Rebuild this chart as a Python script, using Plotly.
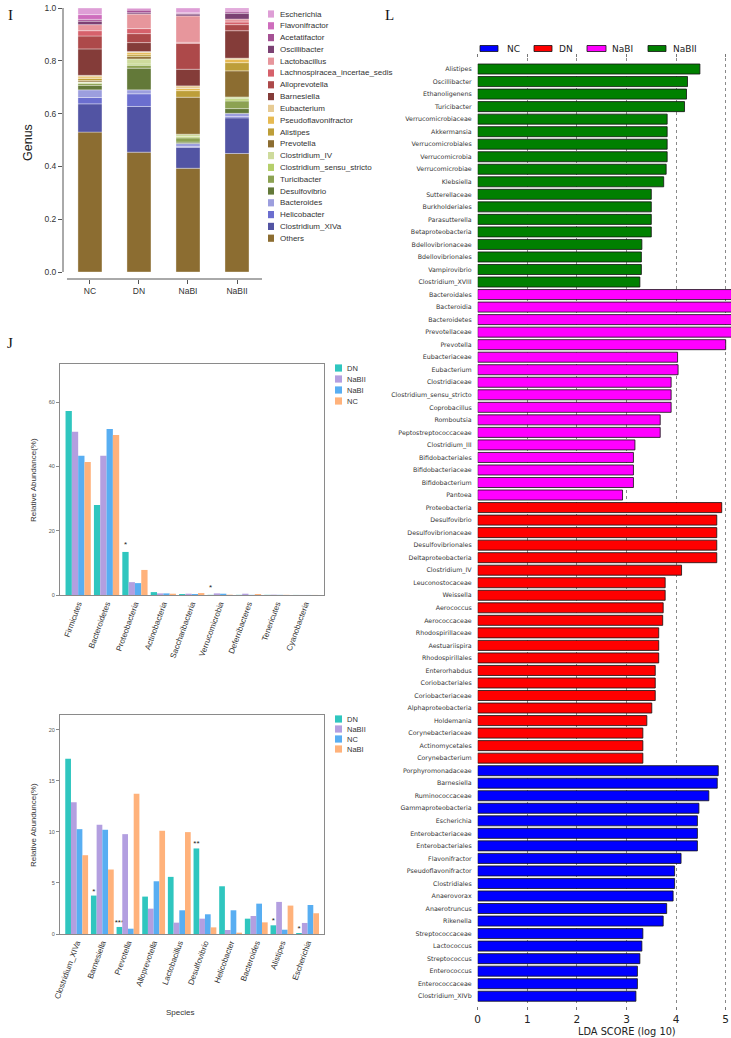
import numpy as np
import plotly.graph_objects as go

W, H = 731, 1038
def fx(px): return px / W
def fy(py): return 1 - py / H

NARROW = "Liberation Sans Narrow, Arial Narrow, Liberation Sans, sans-serif"
SANS = "Liberation Sans, Arial, sans-serif"
DEJA = "DejaVu Sans, sans-serif"
SERIF = "Liberation Serif, Times New Roman, serif"

# ---------------- Panel I : genus stacked bars ----------------
genus_groups = ["NC", "DN", "NaBI", "NaBII"]
genus_names = ["Others", "Clostridium_XIVa", "Helicobacter", "Bacteroides", "Desulfovibrio",
               "Turicibacter", "Clostridium_sensu_stricto", "Clostridium_IV", "Prevotella",
               "Alistipes", "Pseudoflavonifractor", "Eubacterium", "Barnesiella", "Alloprevotella",
               "Lachnospiracea_incertae_sedis", "Lactobacillus", "Oscillibacter", "Acetatifactor",
               "Flavonifractor", "Escherichia"]
genus_colors = ["#8c6d31", "#5254a3", "#6b6ecf", "#9c9ede", "#637939", "#8ca252", "#b5cf6b",
                "#cedb9c", "#8c6d31", "#bd9e39", "#e7ba52", "#e7cb94", "#843c39", "#ad494a",
                "#d6616b", "#e7969c", "#7b4173", "#a55194", "#ce6dbd", "#de9ed6"]
genus_NC = [0.530, 0.107, 0.024, 0.029, 0.017, 0.007, 0.004, 0.002, 0.005, 0.008,
            0.006, 0.006, 0.100, 0.049, 0.020, 0.023, 0.013, 0.007, 0.018, 0.025]
genus_DN = [0.454, 0.173, 0.048, 0.015, 0.082, 0.011, 0.005, 0.019, 0.009, 0.007,
            0.008, 0.004, 0.034, 0.034, 0.019, 0.055, 0.005, 0.010, 0.005, 0.003]
genus_NaBI = [0.393, 0.079, 0.003, 0.012, 0.005, 0.016, 0.005, 0.009, 0.140, 0.025,
              0.008, 0.010, 0.063, 0.098, 0.004, 0.100, 0.007, 0.003, 0.002, 0.018]
genus_NaBII = [0.449, 0.135, 0.005, 0.012, 0.018, 0.029, 0.008, 0.007, 0.099, 0.031,
               0.013, 0.004, 0.104, 0.023, 0.010, 0.011, 0.022, 0.006, 0.006, 0.008]

# ---------------- Panel J top : phylum ----------------
phyla = ["Firmicutes", "Bacteroidetes", "Proteobacteria", "Actinobacteria", "Saccharibacteria",
         "Verrucomicrobia", "Deferribacteres", "Tenericutes", "Cyanobacteria"]
phylum_series = ["DN", "NaBII", "NaBI", "NC"]
phylum_colors = ["#2fc6bf", "#b39fe0", "#58aef2", "#ffb27b"]
phylum_DN = [57.3, 28.0, 13.4, 0.9, 0.3, 0.05, 0.05, 0.05, 0.02]
phylum_NaBII = [50.8, 43.3, 4.0, 0.5, 0.4, 0.5, 0.4, 0.1, 0.02]
phylum_NaBI = [43.3, 51.7, 3.7, 0.5, 0.3, 0.4, 0.05, 0.05, 0.02]
phylum_NC = [41.4, 49.8, 7.8, 0.4, 0.6, 0.1, 0.3, 0.05, 0.02]
phylum_sig = ["", "", "*", "", "", "*", "", "", ""]

# ---------------- Panel J bottom : species ----------------
species = ["Clostridium_XIVa", "Barnesiella", "Prevotella", "Alloprevotella", "Lactobacillus",
           "Desulfovibrio", "Helicobacter", "Bacteroides", "Alistipes", "Escherichia"]
species_series = ["DN", "NaBII", "NC", "NaBI"]
species_colors = ["#2fc6bf", "#b39fe0", "#58aef2", "#ffb27b"]
sp_DN = [17.16, 3.76, 0.69, 3.66, 5.59, 8.37, 4.67, 1.50, 0.85, 0.10]
sp_NaBII = [12.9, 10.69, 9.77, 2.48, 1.11, 1.50, 0.39, 1.76, 3.14, 1.08]
sp_NC = [10.26, 10.20, 0.52, 5.16, 2.32, 1.93, 2.32, 2.97, 0.42, 2.84]
sp_NaBI = [7.71, 6.31, 13.73, 10.10, 9.97, 0.65, 0.13, 1.14, 2.78, 2.03]
sp_sig = ["", "*", "***", "", "", "**", "", "", "*", "*"]

# ---------------- Panel L : LEfSe LDA ----------------
lda_groups = ["NC", "DN", "NaBI", "NaBII"]
lda_colors = ["#0000ff", "#ff0000", "#ff00ff", "#008000"]
nabii_taxa = ["Alistipes", "Oscillibacter", "Ethanoligenens", "Turicibacter", "Verrucomicrobiaceae",
              "Akkermansia", "Verrucomicrobiales", "Verrucomicrobia", "Verrucomicrobiae", "Klebsiella",
              "Sutterellaceae", "Burkholderiales", "Parasutterella", "Betaproteobacteria",
              "Bdellovibrionaceae", "Bdellovibrionales", "Vampirovibrio", "Clostridium_XVIII"]
nabii_lda = [4.48, 4.23, 4.21, 4.17, 3.82, 3.82, 3.82, 3.82, 3.80, 3.75,
             3.50, 3.50, 3.50, 3.50, 3.31, 3.30, 3.30, 3.27]
nabi_taxa = ["Bacteroidales", "Bacteroidia", "Bacteroidetes", "Prevotellaceae", "Prevotella",
             "Eubacteriaceae", "Eubacterium", "Clostridiaceae", "Clostridium_sensu_stricto",
             "Coprobacillus", "Romboutsia", "Peptostreptococcaceae", "Clostridium_III",
             "Bifidobacteriales", "Bifidobacteriaceae", "Bifidobacterium", "Pantoea"]
nabi_lda = [5.15, 5.15, 5.14, 5.15, 5.00, 4.03, 4.04, 3.90, 3.90, 3.90,
            3.68, 3.68, 3.17, 3.14, 3.14, 3.14, 2.92]
dn_taxa = ["Proteobacteria", "Desulfovibrio", "Desulfovibrionaceae", "Desulfovibrionales",
           "Deltaproteobacteria", "Clostridium_IV", "Leuconostocaceae", "Weissella", "Aerococcus",
           "Aerococcaceae", "Rhodospirillaceae", "Aestuariispira", "Rhodospirillales", "Enterorhabdus",
           "Coriobacteriales", "Coriobacteriaceae", "Alphaproteobacteria", "Holdemania",
           "Corynebacteriaceae", "Actinomycetales", "Corynebacterium"]
dn_lda = [4.92, 4.82, 4.82, 4.82, 4.82, 4.11, 3.78, 3.78, 3.74, 3.73, 3.65, 3.65, 3.65,
          3.58, 3.58, 3.58, 3.51, 3.41, 3.33, 3.33, 3.33]
nc_taxa = ["Porphyromonadaceae", "Barnesiella", "Ruminococcaceae", "Gammaproteobacteria",
           "Escherichia", "Enterobacteriaceae", "Enterobacteriales", "Flavonifractor",
           "Pseudoflavonifractor", "Clostridiales", "Anaerovorax", "Anaerotruncus", "Rikenella",
           "Streptococcaceae", "Lactococcus", "Streptococcus", "Enterococcus", "Enterococcaceae",
           "Clostridium_XIVb"]
nc_lda = [4.85, 4.83, 4.66, 4.46, 4.43, 4.43, 4.43, 4.10, 3.97, 3.97, 3.94, 3.81, 3.74,
          3.33, 3.31, 3.27, 3.22, 3.22, 3.19]
lda_ticks = [0, 1, 2, 3, 4, 5]

fig = go.Figure()

# ---- Panel I traces ----
gmat = np.array([genus_NC, genus_DN, genus_NaBI, genus_NaBII])
gbase = np.cumsum(gmat, axis=1) - gmat
bw_I = 0.49
for k, name in enumerate(genus_names):
    fig.add_trace(go.Bar(x=genus_groups, y=gmat[:, k], base=gbase[:, k], name=name,
                         marker=dict(color=genus_colors[k], line=dict(color="rgba(255,255,255,0.7)", width=0.5)),
                         width=bw_I, offset=-bw_I / 2, xaxis="x", yaxis="y", showlegend=False))

# ---- Panel J top ----
phylum_vals = [phylum_DN, phylum_NaBII, phylum_NaBI, phylum_NC]
for i, s in enumerate(phylum_series):
    fig.add_trace(go.Bar(x=phyla, y=phylum_vals[i], name=s, marker=dict(color=phylum_colors[i], line=dict(width=0)),
                         text=phylum_sig if s == "DN" else None, textposition="outside",
                         textangle=0, constraintext="none", cliponaxis=False,
                         textfont=dict(size=8, color="#222", family=SANS),
                         xaxis="x2", yaxis="y2", showlegend=False))

# ---- Panel J bottom ----
sp_vals = [sp_DN, sp_NaBII, sp_NC, sp_NaBI]
for i, s in enumerate(species_series):
    fig.add_trace(go.Bar(x=species, y=sp_vals[i], name=s, marker=dict(color=species_colors[i], line=dict(width=0)),
                         text=sp_sig if s == "DN" else None, textposition="outside",
                         textangle=0, constraintext="none", cliponaxis=False,
                         textfont=dict(size=8, color="#222", family=SANS),
                         xaxis="x3", yaxis="y3", showlegend=False))

# ---- Panel L ----
lda_sets = [(nabii_taxa, nabii_lda, 3), (nabi_taxa, nabi_lda, 2), (dn_taxa, dn_lda, 1), (nc_taxa, nc_lda, 0)]
all_taxa = nabii_taxa + nabi_taxa + dn_taxa + nc_taxa
bw_L = 0.8
for taxa, vals, gi in lda_sets:
    fig.add_trace(go.Bar(y=taxa, x=vals, orientation="h", name=lda_groups[gi],
                         marker=dict(color=lda_colors[gi], line=dict(color="#111", width=0.8)),
                         width=bw_L, offset=-bw_L / 2, xaxis="x4", yaxis="y4", showlegend=False))

shapes = []
annotations = []

# Panel I axis lines (detached style)
shapes.append(dict(type="line", xref="x domain", yref="y", x0=0, x1=0, y0=0, y1=1,
                   line=dict(color="#555", width=1)))
shapes.append(dict(type="line", xref="x domain", yref="y domain", x0=0.02, x1=1, y0=0, y1=0,
                   line=dict(color="#555", width=1)))

# Panel I legend
for k, name in enumerate(genus_names[::-1]):
    yc = 14 + 11.8 * k
    col = genus_colors[::-1][k]
    shapes.append(dict(type="rect", xref="paper", yref="paper", x0=fx(268), x1=fx(274),
                       y0=fy(yc + 3.6), y1=fy(yc - 3.6), fillcolor=col, line=dict(width=0)))
    annotations.append(dict(xref="paper", yref="paper", x=fx(278), y=fy(yc), text=name,
                            showarrow=False, xanchor="left", yanchor="middle",
                            font=dict(family=NARROW, size=8, color="#333")))

# Panel J legends
for k, s in enumerate(phylum_series):
    yc = 368 + 11 * k
    shapes.append(dict(type="rect", xref="paper", yref="paper", x0=fx(335), x1=fx(342),
                       y0=fy(yc + 3.6), y1=fy(yc - 3.6), fillcolor=phylum_colors[k], line=dict(width=0)))
    annotations.append(dict(xref="paper", yref="paper", x=fx(345), y=fy(yc), text=s, showarrow=False,
                            xanchor="left", yanchor="middle", font=dict(family=SANS, size=7.5, color="#333")))
for k, s in enumerate(species_series):
    yc = 719 + 10 * k
    shapes.append(dict(type="rect", xref="paper", yref="paper", x0=fx(335), x1=fx(342),
                       y0=fy(yc + 3.6), y1=fy(yc - 3.6), fillcolor=species_colors[k], line=dict(width=0)))
    annotations.append(dict(xref="paper", yref="paper", x=fx(345), y=fy(yc), text=s, showarrow=False,
                            xanchor="left", yanchor="middle", font=dict(family=SANS, size=7.5, color="#333")))

# Panel L legend
leg_rect_x = [(480, 498), (534, 552), (587, 606), (648, 666)]
leg_text_x = [505, 557, 610, 671]
for k, g in enumerate(lda_groups):
    shapes.append(dict(type="rect", xref="paper", yref="paper", x0=fx(leg_rect_x[k][0]), x1=fx(leg_rect_x[k][1]),
                       y0=fy(51.5), y1=fy(45.5), fillcolor=lda_colors[k], line=dict(color="#111", width=0.8)))
    annotations.append(dict(xref="paper", yref="paper", x=fx(leg_text_x[k]), y=fy(48.5), text=g,
                            showarrow=False, xanchor="left", yanchor="middle",
                            font=dict(family=DEJA, size=9, color="#222")))

# Panel letters and axis titles
for txt, px, py in [("I", 10, 15), ("J", 10, 343), ("L", 389, 15)]:
    annotations.append(dict(xref="paper", yref="paper", x=fx(px), y=fy(py), text=txt, showarrow=False,
                            xanchor="center", yanchor="middle", font=dict(family=SERIF, size=15, color="#111")))
annotations.append(dict(xref="paper", yref="paper", x=fx(28), y=fy(143), text="Genus", textangle=-90,
                        showarrow=False, xanchor="center", yanchor="middle",
                        font=dict(family=SANS, size=12.5, color="#222")))
annotations.append(dict(xref="paper", yref="paper", x=fx(33), y=fy(480), text="Relative Abundance(%)",
                        textangle=-90, showarrow=False, xanchor="center", yanchor="middle",
                        font=dict(family=SANS, size=8, color="#333")))
annotations.append(dict(xref="paper", yref="paper", x=fx(33), y=fy(825), text="Relative Abundunce(%)",
                        textangle=-90, showarrow=False, xanchor="center", yanchor="middle",
                        font=dict(family=SANS, size=8, color="#333")))
annotations.append(dict(xref="paper", yref="paper", x=fx(180), y=fy(1012), text="Species",
                        showarrow=False, xanchor="center", yanchor="middle",
                        font=dict(family=SANS, size=8, color="#333")))
annotations.append(dict(xref="paper", yref="paper", x=fx(627), y=fy(1031.5), text="LDA SCORE (log 10)",
                        showarrow=False, xanchor="center", yanchor="middle",
                        font=dict(family=DEJA, size=9.8, color="#222")))

box = dict(showline=True, mirror=True, linecolor="#8a8a8a", linewidth=1, showgrid=False, zeroline=False)

fig.update_layout(
    template="none", width=W, height=H, autosize=False,
    margin=dict(l=0, r=0, t=0, b=0), paper_bgcolor="white", plot_bgcolor="white",
    barmode="group", bargap=0.11, bargroupgap=0,
    font=dict(family=SANS, color="#333"),
    shapes=shapes, annotations=annotations,
    xaxis=dict(domain=[fx(63), fx(262)], range=[-0.55, 3.51], anchor="y", showline=False, showgrid=False,
               zeroline=False, ticks="outside", ticklen=4, tickcolor="#555", automargin=False,
               tickfont=dict(family=NARROW, size=8.5, color="#333")),
    yaxis=dict(domain=[fy(279), fy(8)], range=[-0.0265, 1.0], anchor="x", showline=False, showgrid=False,
               zeroline=False, ticks="outside", ticklen=4, tickcolor="#555", tickvals=[0, 0.2, 0.4, 0.6, 0.8, 1.0],
               tickformat=".1f", automargin=False, tickfont=dict(family=NARROW, size=8.5, color="#333")),
    xaxis2=dict(domain=[fx(60), fx(324)], range=[-0.64, 8.66], anchor="y2", ticks="", tickangle=-70,
                automargin=False, tickfont=dict(family=SANS, size=8, color="#333"), **box),
    yaxis2=dict(domain=[fy(595), fy(364.3)], range=[0, 71.8], anchor="x2", ticks="outside", ticklen=3,
                tickcolor="#8a8a8a", tickvals=[0, 20, 40, 60], automargin=False,
                tickfont=dict(family=SANS, size=5.5, color="#555"), **box),
    xaxis3=dict(domain=[fx(60), fx(324)], range=[-0.65, 9.64], anchor="y3", ticks="", tickangle=-70,
                automargin=False, tickfont=dict(family=SANS, size=8, color="#333"), **box),
    yaxis3=dict(domain=[fy(934), fy(715.3)], range=[0, 21.4], anchor="x3", ticks="outside", ticklen=3,
                tickcolor="#8a8a8a", tickvals=[0, 5, 10, 15, 20], automargin=False,
                tickfont=dict(family=SANS, size=5.5, color="#555"), **box),
    xaxis4=dict(domain=[fx(477.7), 1.0], range=[0, 5.107], anchor="y4", tickvals=lda_ticks,
                showgrid=True, gridcolor="#8a8a8a", griddash="dot", gridwidth=1, zeroline=False,
                showline=True, linecolor="rgba(0,0,0,0)", ticks="outside", ticklen=3, tickcolor="#777",
                mirror="ticks", ticklabeloverflow="allow",
                automargin=False, tickfont=dict(family=DEJA, size=10.5, color="#222")),
    yaxis4=dict(domain=[fy(1006), fy(58)], range=[74.78, -0.88], anchor="x4", type="category",
                categoryorder="array", categoryarray=all_taxa, showgrid=False, zeroline=False,
                showline=False, ticks="", ticklabelstandoff=5, automargin=False,
                tickfont=dict(family=DEJA, size=6.3, color="#333")),
)

fig.write_html(
    "out.html",
    config={"displayModeBar": False, "staticPlot": True},
    post_script="document.body.style.margin='0';document.documentElement.style.overflow='hidden';"
                "document.body.style.overflow='hidden';",
)
